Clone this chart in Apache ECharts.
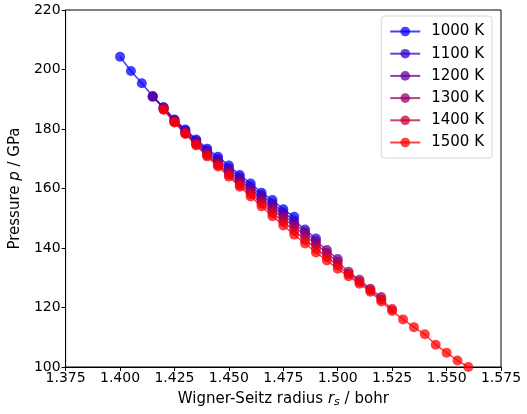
<!DOCTYPE html>
<html>
<head>
<meta charset="utf-8">
<script src="https://cdn.jsdelivr.net/npm/echarts@6/dist/echarts.min.js"></script>
<style>
html, body { margin: 0; padding: 0; background: #fff; }
#chart { width: 527px; height: 414px; }
</style>
</head>
<body>
<div id="chart"></div>
<script>
// temperatures (legend)
var temps = ['1000 K', '1100 K', '1200 K', '1300 K', '1400 K', '1500 K'];
var colors = ['#0000ff', '#3300cc', '#660099', '#990066', '#cc0033', '#ff0000'];

// Wigner-Seitz radius per series
var rs1000 = [1.400,1.405,1.410,1.415,1.420,1.425,1.430,1.435,1.440,1.445,1.450,1.455,1.460,1.465,1.470,1.475,1.480];
var rs1100 = [1.415,1.420,1.425,1.430,1.435,1.440,1.445,1.450,1.455,1.460,1.465,1.470,1.475,1.480,1.485,1.490];
var rs1200 = [1.415,1.420,1.425,1.430,1.435,1.440,1.445,1.450,1.455,1.460,1.465,1.470,1.475,1.480,1.485,1.490,1.495,1.500];
var rs1300 = [1.420,1.425,1.430,1.435,1.440,1.445,1.450,1.455,1.460,1.465,1.470,1.475,1.480,1.485,1.490,1.495,1.500,1.505,1.510,1.515,1.520];
var rs1400 = [1.420,1.425,1.430,1.435,1.440,1.445,1.450,1.455,1.460,1.465,1.470,1.475,1.480,1.485,1.490,1.495,1.500,1.505,1.510,1.515,1.520,1.525];
var rs1500 = [1.420,1.425,1.430,1.435,1.440,1.445,1.450,1.455,1.460,1.465,1.470,1.475,1.480,1.485,1.490,1.495,1.500,1.505,1.510,1.515,1.520,1.525,1.530,1.535,1.540,1.545,1.550,1.555,1.560];

// pressure (GPa) per series
var p1000 = [204.3,199.5,195.4,191.0,187.3,183.2,179.8,176.5,173.4,170.7,167.7,164.5,161.7,158.6,156.1,153.0,150.5];
var p1100 = [191.0,187.2,183.0,179.5,176.0,172.8,169.8,166.8,163.7,160.7,157.7,155.0,152.0,149.2,146.2,143.2];
var p1200 = [190.8,187.0,182.8,179.0,175.5,172.2,169.0,166.0,162.8,159.8,156.8,154.0,151.0,148.2,145.3,142.3,139.3,136.3];
var p1300 = [186.8,182.5,178.7,175.0,171.6,168.3,165.2,162.0,159.0,156.0,153.0,150.0,147.2,144.2,141.3,138.3,135.3,132.0,129.3,126.3,123.5];
var p1400 = [186.6,182.3,178.5,174.8,171.2,167.8,164.6,161.2,158.2,155.0,151.8,148.8,145.8,142.8,139.8,137.0,134.2,131.3,128.6,125.8,122.7,119.5];
var p1500 = [186.5,182.2,178.3,174.5,170.8,167.4,164.0,160.6,157.3,154.0,150.7,147.6,144.5,141.5,138.5,135.8,133.0,130.5,128.0,125.3,122.0,118.8,116.0,113.4,111.0,107.5,104.8,102.2,100.0];

var rsList = [rs1000, rs1100, rs1200, rs1300, rs1400, rs1500];
var pList = [p1000, p1100, p1200, p1300, p1400, p1500];

var font = 'DejaVu Sans';
var myChart = echarts.init(document.getElementById('chart'));

var series = [];
for (var i = 0; i < temps.length; i++) {
    var pts = [];
    for (var j = 0; j < rsList[i].length; j++) {
        pts.push([rsList[i][j], pList[i][j]]);
    }
    series.push({
        name: temps[i],
        type: 'line',
        data: pts,
        symbol: 'circle',
        symbolSize: 10,
        showSymbol: true,
        clip: true,
        animation: false,
        lineStyle: { color: colors[i], width: 1.5, opacity: 0.75 },
        itemStyle: { color: colors[i], opacity: 0.75 }
    });
}

var option = {
    animation: false,
    grid: {
        left: 60, right: 26, top: 10, bottom: 47,
        show: true, borderColor: '#000', borderWidth: 1
    },
    legend: {
        orient: 'vertical',
        right: 35, top: 16,
        padding: [8, 8, 8, 8],
        itemWidth: 30, itemHeight: 12, itemGap: 7.2,
        borderColor: '#d8d8d8', borderWidth: 1, borderRadius: 3,
        backgroundColor: 'rgba(255,255,255,0.8)',
        textStyle: { fontFamily: font, fontSize: 15, color: '#000', padding: [0, 0, 0, 6] },
        data: temps
    },
    xAxis: {
        type: 'value',
        min: 1.375, max: 1.575, interval: 0.025,
        splitLine: { show: false },
        axisLine: { onZero: false, lineStyle: { color: '#000' } },
        axisTick: { inside: false, length: 4, lineStyle: { color: '#000' } },
        axisLabel: {
            fontFamily: font, fontSize: 14, color: '#000', margin: 4,
            formatter: function (v) { return v.toFixed(3); }
        },
        name: '{n|Wigner-Seitz radius }{i|r}{s|s}{n| / bohr}',
        nameLocation: 'middle',
        nameGap: 24,
        nameTextStyle: {
            rich: {
                n: { fontFamily: font, fontSize: 15, color: '#000' },
                i: { fontFamily: font, fontSize: 15, color: '#000', fontStyle: 'italic' },
                s: { fontFamily: font, fontSize: 11, color: '#000', fontStyle: 'italic', verticalAlign: 'bottom', padding: [6, 0, 0, 0] }
            }
        }
    },
    yAxis: {
        type: 'value',
        min: 100, max: 220, interval: 20,
        splitLine: { show: false },
        axisLine: { onZero: false, lineStyle: { color: '#000' } },
        axisTick: { inside: false, length: 4, lineStyle: { color: '#000' } },
        axisLabel: { fontFamily: font, fontSize: 14, color: '#000', margin: 5 },
        name: '{n|Pressure }{i|p}{n| / GPa}',
        nameLocation: 'middle',
        nameGap: 41,
        nameTextStyle: {
            rich: {
                n: { fontFamily: font, fontSize: 15, color: '#000' },
                i: { fontFamily: font, fontSize: 15, color: '#000', fontStyle: 'italic' }
            }
        }
    },
    series: series
};
myChart.setOption(option);
window.onresize = myChart.resize;
</script>
</body>
</html>
